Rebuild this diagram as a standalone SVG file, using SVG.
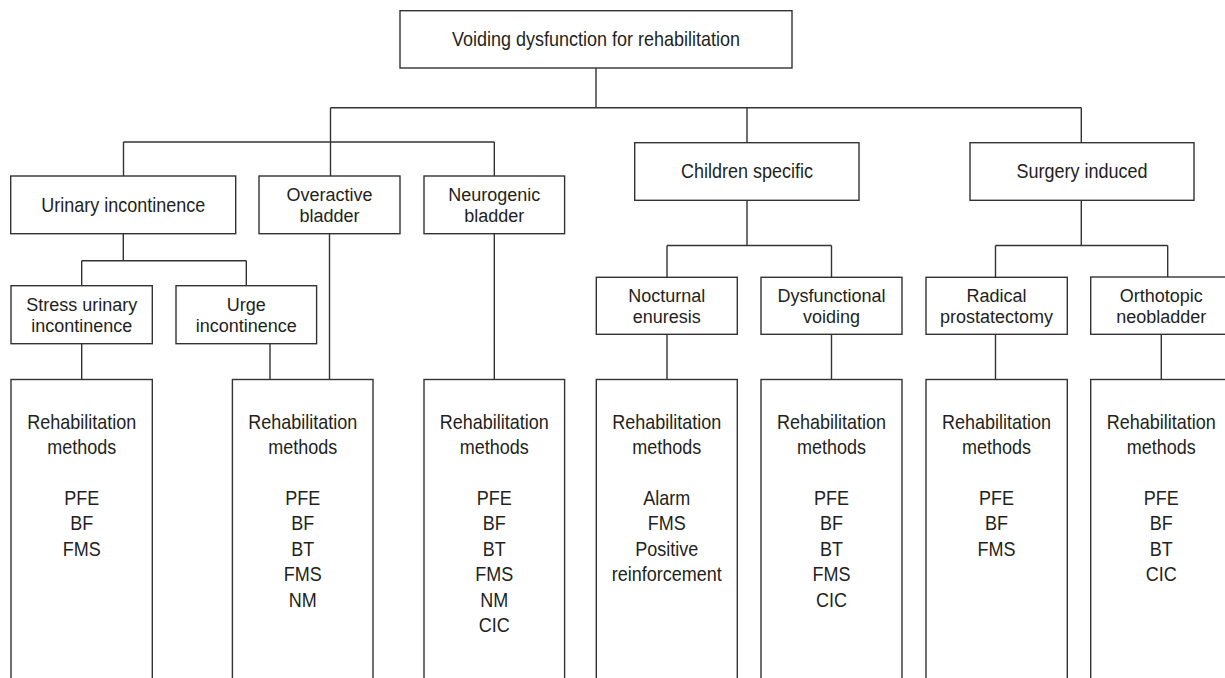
<svg xmlns="http://www.w3.org/2000/svg" width="1225" height="678" viewBox="0 0 1225 678">
<style>
  .box { fill: #ffffff; stroke: #333333; stroke-width: 1.4; }
  .ln { fill: none; stroke: #333333; stroke-width: 1.4; }
  text { font-family: "Liberation Sans", Arial, sans-serif; font-size: 20px; fill: #231f20; text-anchor: middle; }
  text.two { font-size: 18px; }
</style>
<rect x="0" y="0" width="1225" height="678" fill="#ffffff"/>
<g id="connectors">
  <path class="ln" d="M596 68 V107.7 M330.5 107.7 H1081.3 M330.5 107.7 V176 M123.5 142 H494.3 M123.5 142 V176 M494.3 142 V176 M747 107.7 V142.7 M1081.3 107.7 V142.7"/>
  <path class="ln" d="M123.3 233.7 V260.7 M81.7 260.7 H246.3 M81.7 260.7 V285.7 M246.3 260.7 V285.7 M81.7 343.7 V379.5 M270 343.7 V379.5 M329.5 233.7 V379.5 M494.3 233.7 V379.5"/>
  <path class="ln" d="M747 200.3 V245.5 M667 245.5 H831.5 M667 245.5 V277.3 M831.5 245.5 V277.3 M1081.3 200.3 V245.5 M995.5 245.5 H1167.7 M995.5 245.5 V277.3 M1167.7 245.5 V277"/>
  <path class="ln" d="M667 334.3 V379.5 M831.5 334.3 V379.5 M995.5 334.3 V379.5 M1161.3 334.3 V379.5"/>
</g>
<g id="root">
  <rect class="box" x="400" y="10.7" width="392" height="57.3"/>
  <text transform="translate(596 46) scale(0.9 1)">Voiding dysfunction for rehabilitation</text>
</g>
<g id="urinary-incontinence">
  <rect class="box" x="10.7" y="176" width="225" height="57.7"/>
  <text transform="translate(123.2 211.7) scale(0.9 1)">Urinary incontinence</text>
</g>
<g id="overactive-bladder">
  <rect class="box" x="259" y="176" width="141" height="57.7"/>
  <text class="two" x="329.5" y="200.8"><tspan x="329.5" y="200.8">Overactive</tspan><tspan x="329.5" y="221.8">bladder</tspan></text>
</g>
<g id="neurogenic-bladder">
  <rect class="box" x="424" y="176" width="140.6" height="57.7"/>
  <text class="two" x="494.3" y="200.8"><tspan x="494.3" y="200.8">Neurogenic</tspan><tspan x="494.3" y="221.8">bladder</tspan></text>
</g>
<g id="children-specific">
  <rect class="box" x="634.7" y="142.7" width="224.3" height="57.6"/>
  <text transform="translate(746.9 178.4) scale(0.9 1)">Children specific</text>
</g>
<g id="surgery-induced">
  <rect class="box" x="970" y="142.7" width="224" height="57.6"/>
  <text transform="translate(1082 178.4) scale(0.9 1)">Surgery induced</text>
</g>
<g id="stress-urinary-incontinence">
  <rect class="box" x="11" y="285.7" width="141.3" height="58"/>
  <text class="two" x="81.7" y="310.6"><tspan x="81.7" y="310.6">Stress urinary</tspan><tspan x="81.7" y="331.6">incontinence</tspan></text>
</g>
<g id="urge-incontinence">
  <rect class="box" x="176" y="285.7" width="140.6" height="58"/>
  <text class="two" x="246.3" y="310.6"><tspan x="246.3" y="310.6">Urge</tspan><tspan x="246.3" y="331.6">incontinence</tspan></text>
</g>
<g id="nocturnal-enuresis">
  <rect class="box" x="596.3" y="277.3" width="141" height="57"/>
  <text class="two" x="666.8" y="301.8"><tspan x="666.8" y="301.8">Nocturnal</tspan><tspan x="666.8" y="322.8">enuresis</tspan></text>
</g>
<g id="dysfunctional-voiding">
  <rect class="box" x="761" y="277.3" width="141" height="57"/>
  <text class="two" x="831.5" y="301.8"><tspan x="831.5" y="301.8">Dysfunctional</tspan><tspan x="831.5" y="322.8">voiding</tspan></text>
</g>
<g id="radical-prostatectomy">
  <rect class="box" x="926" y="277.3" width="141.3" height="57"/>
  <text class="two" x="996.5" y="301.8"><tspan x="996.5" y="301.8">Radical</tspan><tspan x="996.5" y="322.8">prostatectomy</tspan></text>
</g>
<g id="orthotopic-neobladder">
  <rect class="box" x="1090.7" y="277" width="141" height="57.3"/>
  <text class="two" x="1161.3" y="301.8"><tspan x="1161.3" y="301.8">Orthotopic</tspan><tspan x="1161.3" y="322.8">neobladder</tspan></text>
</g>
<g id="methods-sui">
  <rect class="box" x="11" y="379.5" width="141.3" height="320"/>
  <text transform="translate(81.7 429) scale(0.9 1)"><tspan x="0" y="0">Rehabilitation</tspan><tspan x="0" y="25">methods</tspan><tspan x="0" y="76">PFE</tspan><tspan x="0" y="101.5">BF</tspan><tspan x="0" y="127">FMS</tspan></text>
</g>
<g id="methods-oab">
  <rect class="box" x="232.4" y="379.5" width="140.6" height="320"/>
  <text transform="translate(302.7 429) scale(0.9 1)"><tspan x="0" y="0">Rehabilitation</tspan><tspan x="0" y="25">methods</tspan><tspan x="0" y="76">PFE</tspan><tspan x="0" y="101.5">BF</tspan><tspan x="0" y="127">BT</tspan><tspan x="0" y="152.5">FMS</tspan><tspan x="0" y="178">NM</tspan></text>
</g>
<g id="methods-neurogenic">
  <rect class="box" x="424" y="379.5" width="140.6" height="320"/>
  <text transform="translate(494.3 429) scale(0.9 1)"><tspan x="0" y="0">Rehabilitation</tspan><tspan x="0" y="25">methods</tspan><tspan x="0" y="76">PFE</tspan><tspan x="0" y="101.5">BF</tspan><tspan x="0" y="127">BT</tspan><tspan x="0" y="152.5">FMS</tspan><tspan x="0" y="178">NM</tspan><tspan x="0" y="203.5">CIC</tspan></text>
</g>
<g id="methods-nocturnal">
  <rect class="box" x="596.3" y="379.5" width="141" height="320"/>
  <text transform="translate(666.8 429) scale(0.9 1)"><tspan x="0" y="0">Rehabilitation</tspan><tspan x="0" y="25">methods</tspan><tspan x="0" y="76">Alarm</tspan><tspan x="0" y="101.5">FMS</tspan><tspan x="0" y="127">Positive</tspan><tspan x="0" y="152.5">reinforcement</tspan></text>
</g>
<g id="methods-dysfunctional">
  <rect class="box" x="761" y="379.5" width="141" height="320"/>
  <text transform="translate(831.5 429) scale(0.9 1)"><tspan x="0" y="0">Rehabilitation</tspan><tspan x="0" y="25">methods</tspan><tspan x="0" y="76">PFE</tspan><tspan x="0" y="101.5">BF</tspan><tspan x="0" y="127">BT</tspan><tspan x="0" y="152.5">FMS</tspan><tspan x="0" y="178">CIC</tspan></text>
</g>
<g id="methods-radical">
  <rect class="box" x="926" y="379.5" width="141.3" height="320"/>
  <text transform="translate(996.5 429) scale(0.9 1)"><tspan x="0" y="0">Rehabilitation</tspan><tspan x="0" y="25">methods</tspan><tspan x="0" y="76">PFE</tspan><tspan x="0" y="101.5">BF</tspan><tspan x="0" y="127">FMS</tspan></text>
</g>
<g id="methods-orthotopic">
  <rect class="box" x="1090.7" y="379.5" width="141" height="320"/>
  <text transform="translate(1161.3 429) scale(0.9 1)"><tspan x="0" y="0">Rehabilitation</tspan><tspan x="0" y="25">methods</tspan><tspan x="0" y="76">PFE</tspan><tspan x="0" y="101.5">BF</tspan><tspan x="0" y="127">BT</tspan><tspan x="0" y="152.5">CIC</tspan></text>
</g>
</svg>
